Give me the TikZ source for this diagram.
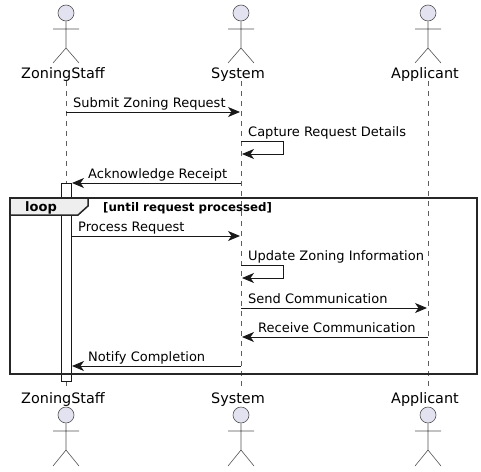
\documentclass[tikz,border=0pt]{standalone}
\usepackage{fontspec}
\setmainfont{DejaVu Sans}
\usepackage{xcolor}
\usetikzlibrary{positioning, arrows.meta}
\definecolor{actorfill}{HTML}{E2E2F0}
\definecolor{lineink}{HTML}{181818}
\definecolor{tabfill}{HTML}{EEEEEE}

\begin{document}
\begin{tikzpicture}[
      x=1pt, y=-1pt,
      font=\fontsize{13}{15}\selectfont,
      limb/.style={draw=lineink!75, line width=0.6pt},
      head/.style={circle, draw=lineink!75, line width=0.6pt, fill=actorfill, minimum size=16pt, inner sep=0pt},
      who/.style={font=\fontsize{14.4}{16}\selectfont, inner sep=0pt, anchor=base, text=black},
      life/.style={draw=lineink!70, line width=0.5pt, dash pattern=on 5pt off 5pt},
      msg/.style={anchor=base west, inner sep=0pt, text=black},
      arr/.style={-{Stealth[length=12pt, width=10pt, inset=3.5pt]}, draw=lineink, line width=0.9pt},
      bar/.style={draw=lineink, line width=0.8pt, fill=white},
      frameline/.style={draw=black!85, line width=1.5pt},
      tab/.style={draw=black!85, line width=1.5pt, fill=tabfill},
      tabtext/.style={font=\fontsize{13}{15}\bfseries\selectfont, inner sep=0pt},
      guard/.style={font=\fontsize{11.8}{13}\bfseries\selectfont, anchor=base west, inner sep=0pt},
    ]
    \useasboundingbox (0,0) rectangle (481,471);
    % actors, top and bottom
    \foreach \x/\id/\lab in {66/zs/ZoningStaff, 241/sy/System, 428/ap/Applicant} {
      \node[who] (\id top) at (\x-3,78) {\lab};
      \node[who] (\id bot) at (\x-3,403) {\lab};
      \node[head] (\id htop) at (\x,13) {};
      \node[head] (\id hbot) at (\x,415) {};
      \draw[limb] (\id htop.south) -- (\x,48) -- ++(-13,15) (\x,48) -- ++(13,15) (\x-13,29) -- (\x+13,29);
      \draw[limb] (\id hbot.south) -- (\x,450) -- ++(-13,16) (\x,450) -- ++(13,16) (\x-13,431) -- (\x+13,431);
      \coordinate (\id a) at (\x,81);
      \coordinate (\id b) at (\x,387);
      \draw[life] (\id a) -- (\id b);
    }
    % activation
    \node[bar, minimum width=10pt, minimum height=198pt, inner sep=0pt] (act) at (66,282) {};
    % loop frame
    \coordinate (f1) at (10,198);
    \coordinate (f2) at (477,374);
    \draw[frameline] (f1) rectangle (f2);
    \draw[tab] (f1) -- (88,198) -- (88,206) -- (78,215) -- (10,215) -- cycle;
    \node[tabtext] (looplab) at (41,208) {loop};
    \node[guard] (until) at (103,211) {[until request processed]};
    % messages
    \foreach \y/\a/\b/\lab/\tx [count=\i] in {
        112/66/240/Submit Zoning Request/73,
        183/241/72/Acknowledge Receipt/88,
        236/72/240/Process Request/78,
        308/241/427/Send Communication/248,
        337/428/242/Receive Communication/258,
        366/241/72/Notify Completion/88} {
      \coordinate (s\i) at (\a,\y);
      \coordinate (e\i) at (\b,\y);
      \draw[arr] (s\i) -- (e\i);
      \node[msg] (m\i) at (\tx,\y-4.5) {\lab};
    }
    % self messages
    \foreach \y/\lab/\id in {141/Capture Request Details/cap, 265/Update Zoning Information/upd} {
      \coordinate (\id s) at (241,\y);
      \coordinate (\id e) at (242,\y+13);
      \draw[arr] (\id s) -- (283,\y) -- (283,\y+13) -- (\id e);
      \node[msg] (\id) at (248,\y-4.5) {\lab};
    }
  \end{tikzpicture}
\end{document}
